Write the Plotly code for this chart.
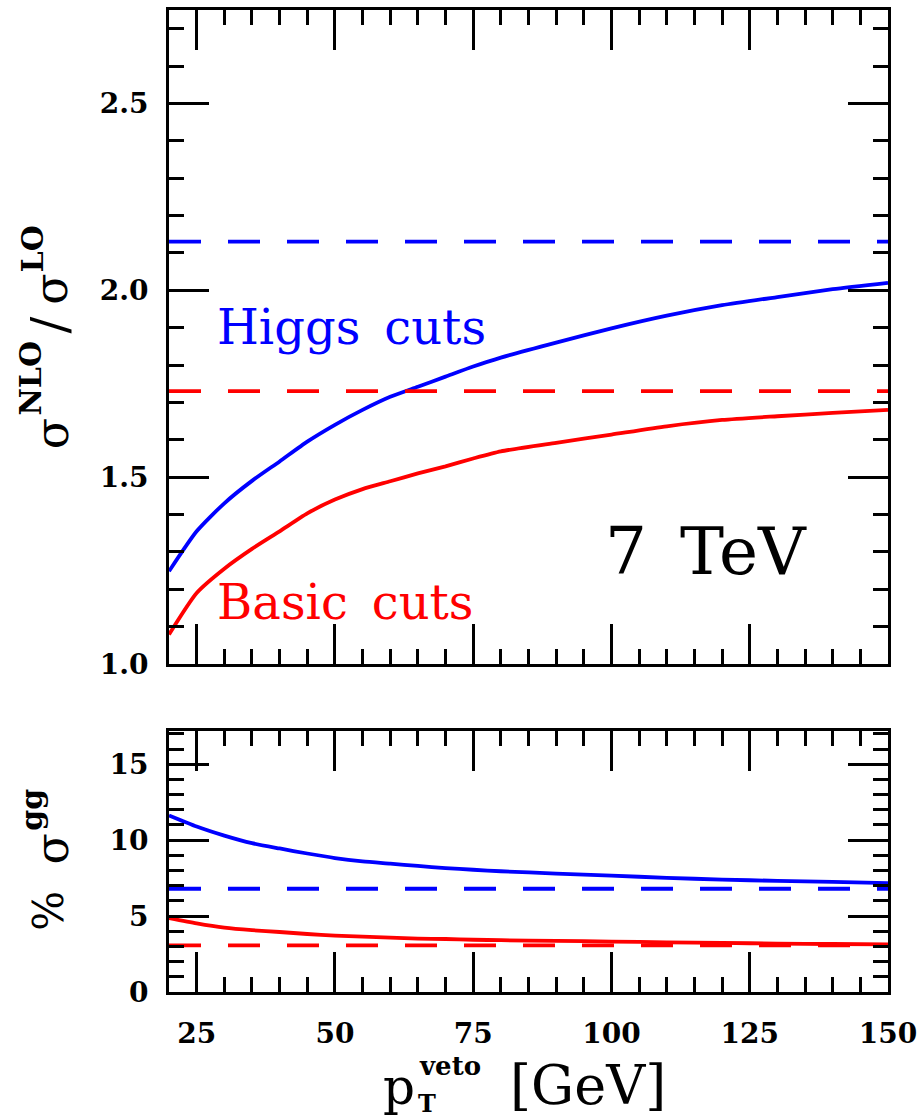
import plotly.graph_objects as go
from plotly.subplots import make_subplots

# ---------------- data ----------------
pt_veto = [20, 25, 30, 35, 40, 45, 50, 55, 60, 65, 70, 75, 80, 90, 100, 110, 120, 130, 140, 150]

ratio_higgs = [1.248, 1.355, 1.430, 1.490, 1.542, 1.595, 1.640, 1.680, 1.715, 1.742,
               1.769, 1.796, 1.820, 1.860, 1.898, 1.932, 1.960, 1.982, 2.003, 2.020]
ratio_basic = [1.079, 1.190, 1.255, 1.308, 1.355, 1.403, 1.440, 1.468, 1.489, 1.510,
               1.529, 1.550, 1.569, 1.592, 1.614, 1.636, 1.653, 1.663, 1.672, 1.680]
ratio_higgs_nocut = 2.13
ratio_basic_nocut = 1.73

gg_higgs = [11.63, 10.90, 10.30, 9.80, 9.45, 9.12, 8.82, 8.60, 8.45, 8.30,
            8.16, 8.05, 7.95, 7.80, 7.66, 7.52, 7.40, 7.32, 7.25, 7.17]
gg_basic = [4.87, 4.52, 4.24, 4.07, 3.95, 3.82, 3.71, 3.64, 3.58, 3.52,
            3.49, 3.44, 3.41, 3.37, 3.32, 3.27, 3.23, 3.19, 3.16, 3.14]
gg_higgs_nocut = 6.80
gg_basic_nocut = 3.07

x_range = [20, 150]
top_range = [1.0, 2.75]
bot_range = [0, 17.2]

BLUE = "#0000ff"
RED = "#ff0000"

# ---------------- geometry ----------------
W, H = 924, 1117
L, R, T, B = 169, 33, 7, 125
PW, PH = W - L - R, H - T - B


def px(xp):
    return (xp - L) / PW


def py(yp):
    return (H - B - yp) / PH


fig = make_subplots(rows=2, cols=1, shared_xaxes=False, vertical_spacing=0.0,
                    row_heights=[0.5, 0.5])

lw = 3.8
dash = "32px,27px"
solid = dict(width=lw, shape="spline", smoothing=0.6)

fig.add_trace(go.Scatter(x=pt_veto, y=ratio_higgs, mode="lines",
                         line=dict(color=BLUE, **solid)), row=1, col=1)
fig.add_trace(go.Scatter(x=pt_veto, y=ratio_basic, mode="lines",
                         line=dict(color=RED, **solid)), row=1, col=1)
fig.add_trace(go.Scatter(x=x_range, y=[ratio_higgs_nocut] * 2, mode="lines",
                         line=dict(color=BLUE, width=lw, dash=dash)), row=1, col=1)
fig.add_trace(go.Scatter(x=x_range, y=[ratio_basic_nocut] * 2, mode="lines",
                         line=dict(color=RED, width=lw, dash=dash)), row=1, col=1)

fig.add_trace(go.Scatter(x=pt_veto, y=gg_higgs, mode="lines",
                         line=dict(color=BLUE, **solid)), row=2, col=1)
fig.add_trace(go.Scatter(x=pt_veto, y=gg_basic, mode="lines",
                         line=dict(color=RED, **solid)), row=2, col=1)
fig.add_trace(go.Scatter(x=x_range, y=[gg_higgs_nocut] * 2, mode="lines",
                         line=dict(color=BLUE, width=lw, dash=dash)), row=2, col=1)
fig.add_trace(go.Scatter(x=x_range, y=[gg_basic_nocut] * 2, mode="lines",
                         line=dict(color=RED, width=lw, dash=dash)), row=2, col=1)

tickfont = dict(family="DejaVu Serif", size=28, color="black", weight="bold")
common = dict(showline=True, linecolor="black", linewidth=3, mirror="allticks",
              ticks="inside", ticklen=40, tickwidth=2.5, tickcolor="black",
              showgrid=False, zeroline=False, tickfont=tickfont)

top_dom = [(H - B - 663) / PH, 1.0]
bot_dom = [0.0, (H - B - 730) / PH]

fig.update_layout(
    width=W, height=H,
    margin=dict(l=L, r=R, t=T, b=B),
    paper_bgcolor="white", plot_bgcolor="white",
    showlegend=False,
    xaxis=dict(range=x_range, tick0=0, dtick=25, showticklabels=False,
               minor=dict(dtick=5, tick0=0, ticks="inside", ticklen=15, tickwidth=2.5,
                          tickcolor="black", showgrid=False),
               **common),
    yaxis=dict(range=top_range, domain=top_dom, tick0=1.0, dtick=0.5,
               tickformat=".1f", ticklabelstandoff=12,
               minor=dict(dtick=0.1, tick0=1.0, ticks="inside", ticklen=15, tickwidth=2.5,
                          tickcolor="black", showgrid=False),
               **common),
    xaxis2=dict(range=x_range, tick0=0, dtick=25, ticklabelstandoff=14,
                minor=dict(dtick=5, tick0=0, ticks="inside", ticklen=15, tickwidth=2.5,
                           tickcolor="black", showgrid=False),
                **common),
    yaxis2=dict(range=bot_range, domain=bot_dom, tick0=0, dtick=5, ticklabelstandoff=12,
                minor=dict(dtick=1, tick0=0, ticks="inside", ticklen=15, tickwidth=2.5,
                           tickcolor="black", showgrid=False),
                **common),
)

SERIF = "DejaVu Serif"


def ann(text, xp, yp, size, color="black", bold=False, angle=0, xanchor="center"):
    f = dict(family=SERIF, size=size, color=color)
    if bold:
        f["weight"] = "bold"
    fig.add_annotation(text=text, x=px(xp), y=py(yp), xref="paper", yref="paper",
                       xanchor=xanchor, yanchor="middle", showarrow=False,
                       borderpad=0, textangle=angle, font=f)


# in-plot labels
ann("Higgs\u2002cuts", 216, 325.4, 48, BLUE, xanchor="left")
ann("Basic\u2002cuts", 216, 600.4, 48, RED, xanchor="left")
ann("7\u2002TeV", 606, 550.2, 66, "black", xanchor="left")

# top y title: sigma^NLO / sigma^LO (rotated)
ann("σ", 51, 432, 46, angle=-90)
ann("NLO", 29.6, 376.5, 30, bold=True, angle=-90)
ann("/", 50, 323, 50, angle=-90)
ann("σ", 51, 287, 46, angle=-90)
ann("LO", 31.6, 247, 30, bold=True, angle=-90)

# bottom y title: % sigma^gg
ann("%", 48, 911, 42, angle=-90)
ann("σ", 51, 848.5, 46, angle=-90)
ann("gg", 30, 809.5, 30, bold=True, angle=-90)

# x title: p_T^veto [GeV]
ann("p", 400, 1087, 50)
ann("T", 428, 1104, 24, bold=True)
ann("veto", 451.5, 1066, 26, bold=True)
ann("[GeV]", 590, 1086, 54)

fig.write_html("out.html", config={"displayModeBar": False},
               post_script="document.body.style.margin='0px';")
